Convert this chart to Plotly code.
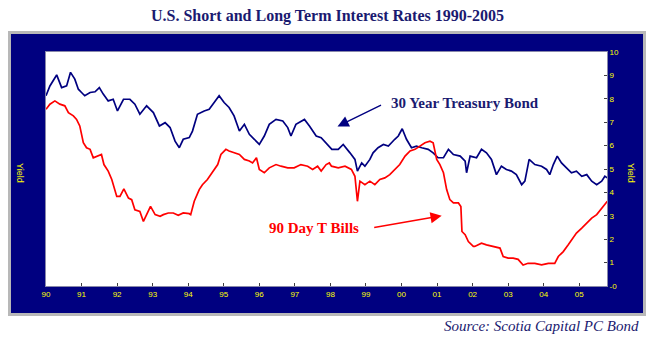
import plotly.graph_objects as go

# ---- data ----
bond_year = [1990.00, 1990.11, 1990.30, 1990.44, 1990.58, 1990.69, 1990.81, 1990.91, 1991.00, 1991.09,
             1991.24, 1991.38, 1991.50, 1991.61, 1991.75, 1991.89, 1992.01, 1992.18, 1992.36, 1992.50,
             1992.64, 1992.83, 1993.02, 1993.19, 1993.35, 1993.49, 1993.63, 1993.75, 1993.86, 1994.03,
             1994.12, 1994.26, 1994.45, 1994.59, 1994.73, 1994.87, 1995.01, 1995.15, 1995.29, 1995.44,
             1995.58, 1995.72, 1995.86, 1996.00, 1996.14, 1996.28, 1996.47, 1996.66, 1996.80, 1996.89,
             1997.03, 1997.27, 1997.41, 1997.60, 1997.74, 1997.92, 1998.04, 1998.22, 1998.36, 1998.55,
             1998.69, 1998.76, 1998.88, 1998.97, 1999.11, 1999.20, 1999.34, 1999.49, 1999.63, 1999.81,
             1999.91, 2000.02, 2000.14, 2000.28, 2000.42, 2000.57, 2000.75, 2000.89, 2001.03, 2001.18,
             2001.32, 2001.46, 2001.65, 2001.79, 2001.83, 2001.93, 2002.11, 2002.25, 2002.39, 2002.53,
             2002.67, 2002.81, 2002.95, 2003.09, 2003.23, 2003.38, 2003.47, 2003.59, 2003.75, 2003.94,
             2004.08, 2004.17, 2004.27, 2004.38, 2004.50, 2004.64, 2004.78, 2004.92, 2005.07, 2005.21,
             2005.35, 2005.49, 2005.63, 2005.72, 2005.79]
bond_yield = [8.13, 8.55, 9.02, 8.48, 8.55, 9.13, 8.84, 8.41, 8.27, 8.13,
              8.27, 8.30, 8.48, 8.20, 7.91, 7.98, 7.48, 7.98, 7.98, 7.77,
              7.34, 7.70, 7.41, 6.84, 6.98, 6.77, 6.19, 5.91, 6.27, 6.34,
              6.62, 7.34, 7.48, 7.55, 7.84, 8.13, 7.84, 7.63, 7.27, 6.62,
              6.91, 6.48, 6.27, 6.05, 6.41, 6.91, 7.12, 7.05, 6.77, 6.41,
              6.91, 7.12, 6.84, 6.41, 6.34, 6.05, 5.84, 5.84, 6.05, 5.69,
              5.41, 4.91, 5.26, 5.12, 5.41, 5.69, 5.91, 6.05, 5.98, 6.27,
              6.41, 6.72, 6.27, 5.91, 5.98, 5.91, 5.84, 5.69, 5.48, 5.48,
              5.84, 5.62, 5.55, 5.34, 4.84, 5.55, 5.48, 5.84, 5.69, 5.41,
              4.76, 5.12, 4.98, 4.91, 4.76, 4.33, 4.48, 5.41, 5.19, 5.12,
              4.98, 4.76, 5.19, 5.55, 5.26, 5.05, 4.84, 4.91, 4.69, 4.76,
              4.48, 4.33, 4.48, 4.69, 4.62]

bill_year = [1990.00, 1990.11, 1990.25, 1990.39, 1990.53, 1990.63, 1990.77, 1990.86, 1990.95, 1991.05,
             1991.14, 1991.24, 1991.33, 1991.47, 1991.56, 1991.63, 1991.75, 1991.85, 1991.91, 1991.99,
             1992.08, 1992.19, 1992.32, 1992.41, 1992.50, 1992.64, 1992.74, 1992.83, 1992.94, 1993.07,
             1993.21, 1993.30, 1993.44, 1993.58, 1993.72, 1993.86, 1994.03, 1994.07, 1994.17, 1994.31,
             1994.40, 1994.54, 1994.68, 1994.83, 1994.92, 1995.06, 1995.15, 1995.29, 1995.44, 1995.58,
             1995.72, 1995.81, 1995.92, 1996.00, 1996.14, 1996.28, 1996.47, 1996.61, 1996.80, 1996.98,
             1997.17, 1997.36, 1997.50, 1997.64, 1997.74, 1997.88, 1997.97, 1998.03, 1998.22, 1998.41,
             1998.59, 1998.69, 1998.76, 1998.83, 1998.97, 1999.11, 1999.25, 1999.39, 1999.53, 1999.67,
             1999.81, 1999.95, 2000.10, 2000.24, 2000.38, 2000.52, 2000.66, 2000.80, 2000.89, 2000.99,
             2001.08, 2001.18, 2001.27, 2001.36, 2001.46, 2001.60, 2001.67, 2001.70, 2001.79, 2001.88,
             2002.02, 2002.06, 2002.25, 2002.39, 2002.58, 2002.77, 2002.86, 2003.00, 2003.14, 2003.28,
             2003.42, 2003.56, 2003.75, 2003.94, 2004.13, 2004.31, 2004.41, 2004.55, 2004.69, 2004.83,
             2004.92, 2005.07, 2005.21, 2005.35, 2005.49, 2005.63, 2005.72, 2005.79]
bill_yield = [7.55, 7.77, 7.91, 7.77, 7.70, 7.41, 7.27, 7.12, 6.84, 6.12,
              5.91, 5.84, 5.48, 5.55, 5.62, 5.19, 4.91, 4.55, 4.26, 3.83,
              3.83, 4.15, 3.76, 3.69, 3.26, 3.19, 2.76, 3.05, 3.40, 3.05,
              2.98, 3.05, 3.12, 3.12, 3.02, 3.12, 3.09, 3.05, 3.62, 4.12,
              4.33, 4.55, 4.84, 5.19, 5.62, 5.84, 5.77, 5.69, 5.62, 5.41,
              5.34, 5.26, 5.48, 4.98, 4.84, 5.05, 5.19, 5.12, 5.05, 5.05,
              5.19, 5.12, 4.98, 5.12, 4.91, 5.19, 5.26, 5.12, 5.05, 5.12,
              4.98, 4.69, 3.62, 4.48, 4.33, 4.48, 4.33, 4.55, 4.62, 4.76,
              4.98, 5.19, 5.55, 5.77, 5.84, 5.98, 6.12, 6.19, 6.12, 5.41,
              5.19, 4.84, 4.12, 3.69, 3.55, 3.55, 3.40, 2.33, 2.19, 1.90,
              1.69, 1.69, 1.83, 1.76, 1.69, 1.62, 1.26, 1.19, 1.19, 1.14,
              0.90, 0.97, 0.97, 0.90, 0.97, 0.97, 1.26, 1.47, 1.76, 2.05,
              2.26, 2.47, 2.69, 2.90, 3.05, 3.33, 3.48, 3.62]

year_ticks = list(range(1990, 2006))
year_labels = ["90", "91", "92", "93", "94", "95", "96", "97", "98", "99",
               "00", "01", "02", "03", "04", "05"]
yield_ticks = list(range(0, 11))
yield_labels = ["-0", "1", "2", "3", "4", "5", "6", "7", "8", "9", "10"]

NAVY = "#000080"
TEXT_NAVY = "#1a1a70"

fig = go.Figure()
fig.add_trace(go.Scatter(x=bond_year, y=bond_yield, mode="lines",
                         line=dict(color=NAVY, width=1.7), name="30 Year Treasury Bond",
                         showlegend=False))
fig.add_trace(go.Scatter(x=bill_year, y=bill_yield, mode="lines",
                         line=dict(color="#ff0000", width=1.7), name="90 Day T Bills",
                         showlegend=False))

# pixel -> paper helpers (plot area: x 46..607, y 52..286)
def px(x):
    return (x - 46) / 561.0

def py(y):
    return (286 - y) / 234.0

shapes = [
    dict(type="rect", xref="paper", yref="paper", layer="below",
         x0=px(8), x1=px(646), y0=py(316), y1=py(31),
         fillcolor="#b8b8b8", line=dict(width=0)),
    dict(type="rect", xref="paper", yref="paper", layer="below",
         x0=px(11), x1=px(643), y0=py(313), y1=py(34),
         fillcolor=NAVY, line=dict(width=0)),
    dict(type="rect", xref="paper", yref="paper", layer="below",
         x0=0, x1=1, y0=0, y1=1,
         fillcolor="white", line=dict(width=0)),
]

annotations = [
    dict(text="<b>U.S. Short and Long Term Interest Rates 1990-2005</b>",
         xref="paper", yref="paper", x=px(327), y=py(16),
         xanchor="center", yanchor="middle", showarrow=False,
         font=dict(family="Liberation Serif", size=16, color=TEXT_NAVY)),
    dict(text="<i>Source: Scotia Capital PC Bond</i>",
         xref="paper", yref="paper", x=px(641), y=py(326),
         xanchor="right", yanchor="middle", showarrow=False,
         font=dict(family="Liberation Serif", size=15, color=TEXT_NAVY)),
    dict(text="<b>30 Year Treasury Bond</b>",
         xref="paper", yref="paper", x=px(465), y=py(103),
         xanchor="center", yanchor="middle", showarrow=False,
         font=dict(family="Liberation Serif", size=15, color=TEXT_NAVY)),
    dict(text="<b>90 Day T Bills</b>",
         xref="paper", yref="paper", x=px(314), y=py(228),
         xanchor="center", yanchor="middle", showarrow=False,
         font=dict(family="Liberation Serif", size=15, color="#ff0000")),
    dict(text="", x=1998.2, y=6.82, xref="x", yref="y",
         showarrow=True, ax=45, ay=-22, arrowhead=2, arrowsize=1.6,
         arrowwidth=1.4, arrowcolor=NAVY),
    dict(text="", x=2001.13, y=3.0, xref="x", yref="y",
         showarrow=True, ax=-69, ay=12, arrowhead=2, arrowsize=1.6,
         arrowwidth=1.4, arrowcolor="#ff0000"),
    dict(text="Yield", xref="paper", yref="paper", x=px(20), y=py(173),
         xanchor="center", yanchor="middle", showarrow=False, textangle=90,
         font=dict(family="Liberation Sans", size=9, color="#ffff00")),
    dict(text="Yield", xref="paper", yref="paper", x=px(631), y=py(173),
         xanchor="center", yanchor="middle", showarrow=False, textangle=90,
         font=dict(family="Liberation Sans", size=9, color="#ffff00")),
]

fig.update_layout(
    width=654, height=338, autosize=False,
    margin=dict(l=46, r=47, t=52, b=52),
    paper_bgcolor="white", plot_bgcolor="white",
    shapes=shapes, annotations=annotations,
    xaxis=dict(range=[1990, 2005.78], tickvals=year_ticks, ticktext=year_labels,
               ticks="inside", ticklen=3, tickcolor="#404040",
               showgrid=False, zeroline=False,
               showline=True, linecolor="#8888aa", linewidth=1, mirror=True,
               tickfont=dict(family="Liberation Sans", size=8, color="#ffff00")),
    yaxis=dict(range=[0, 10], tickvals=yield_ticks, ticktext=yield_labels,
               side="right", ticks="inside", ticklen=3, tickcolor="#404040",
               showgrid=False, zeroline=False,
               showline=True, linecolor="#8888aa", linewidth=1, mirror=True,
               tickfont=dict(family="Liberation Sans", size=8, color="#ffff00")),
)

fig.write_html("out.html")
